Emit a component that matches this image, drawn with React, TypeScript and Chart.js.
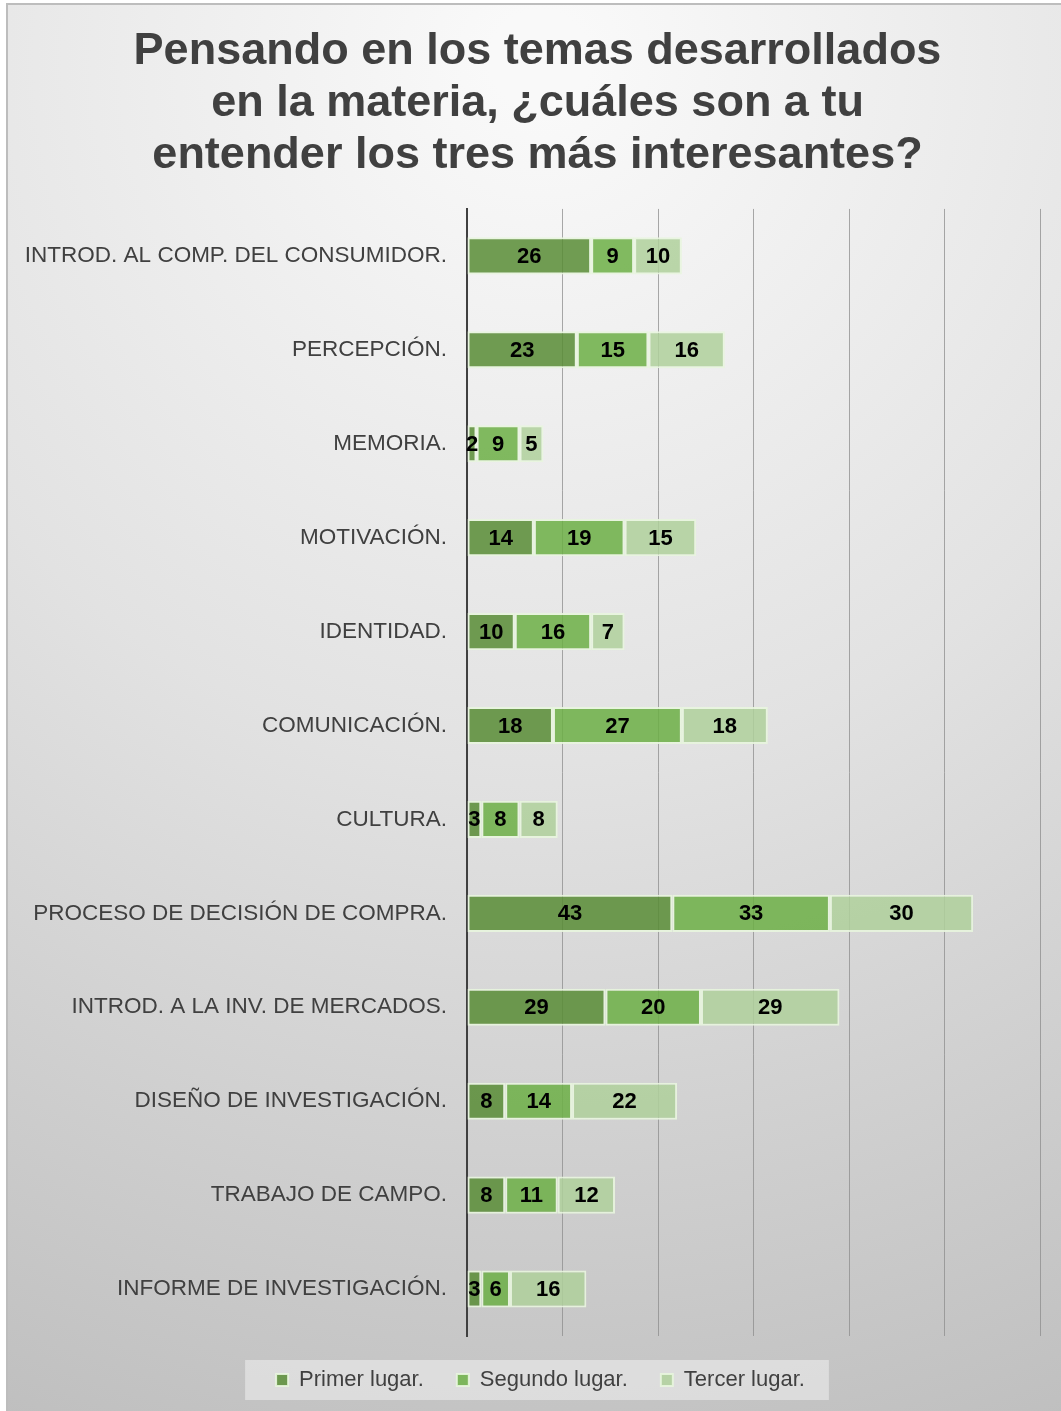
import React, { useEffect, useRef } from "react";
import { Chart, registerables } from "chart.js";

Chart.register(...registerables);

const categories = [
  "INTROD. AL COMP. DEL CONSUMIDOR.",
  "PERCEPCIÓN.",
  "MEMORIA.",
  "MOTIVACIÓN.",
  "IDENTIDAD.",
  "COMUNICACIÓN.",
  "CULTURA.",
  "PROCESO DE DECISIÓN DE COMPRA.",
  "INTROD. A LA INV. DE MERCADOS.",
  "DISEÑO DE INVESTIGACIÓN.",
  "TRABAJO DE CAMPO.",
  "INFORME DE INVESTIGACIÓN.",
];
const primerLugar = [26, 23, 2, 14, 10, 18, 3, 43, 29, 8, 8, 3];
const segundoLugar = [9, 15, 9, 19, 16, 27, 8, 33, 20, 14, 11, 6];
const tercerLugar = [10, 16, 5, 15, 7, 18, 8, 30, 29, 22, 12, 16];
const seriesNames = ["Primer lugar.", "Segundo lugar.", "Tercer lugar."];
const titleLines = [
  "Pensando en los temas desarrollados",
  "en la materia, ¿cuáles son a tu",
  "entender los tres más interesantes?",
];

const FONT = "'Liberation Sans', Arial, sans-serif";
const CENTER_SHIFT = 35;

const shiftPlugin = {
  id: "shiftBlocks",
  afterLayout(chart: any) {
    if (chart.titleBlock) chart.titleBlock.left += CENTER_SHIFT;
    if (chart.legend) chart.legend.left += CENTER_SHIFT + 6;
  },
};

const backgroundPlugin = {
  id: "bgFrame",
  beforeDraw(chart: any) {
    const { ctx, width, height } = chart;
    ctx.save();
    ctx.fillStyle = "#ffffff";
    ctx.fillRect(0, 0, width, height);
    const g = ctx.createRadialGradient(540, 60, 50, 540, 60, 1500);
    g.addColorStop(0, "#f9f9f9");
    g.addColorStop(0.45, "#e2e2e2");
    g.addColorStop(1, "#bdbdbd");
    ctx.fillStyle = g;
    ctx.fillRect(7, 4, width - 7, height - 4);
    ctx.strokeStyle = "#bdbdbd";
    ctx.lineWidth = 2;
    ctx.beginPath();
    ctx.moveTo(7, height);
    ctx.lineTo(7, 4);
    ctx.lineTo(width, 4);
    ctx.stroke();

    const lg = chart.legend;
    if (lg && lg.legendHitBoxes && lg.legendHitBoxes.length) {
      const hb = lg.legendHitBoxes;
      const left = Math.min(...hb.map((h: any) => h.left));
      const right = Math.max(...hb.map((h: any) => h.left + h.width));
      const cy = hb[0].top + hb[0].height / 2;
      ctx.fillStyle = "rgba(228,228,228,0.75)";
      ctx.fillRect(left - 31, cy - 20, right - left + 55, 40);
    }
    ctx.restore();
  },
};

const dataLabelPlugin = {
  id: "dataLabels",
  afterDatasetsDraw(chart: any) {
    const { ctx } = chart;
    ctx.save();
    ctx.font = `bold 22px ${FONT}`;
    ctx.fillStyle = "#000000";
    ctx.textAlign = "center";
    ctx.textBaseline = "middle";
    chart.data.datasets.forEach((ds: any, di: number) => {
      const meta = chart.getDatasetMeta(di);
      meta.data.forEach((bar: any, i: number) => {
        const v = ds.data[i];
        const p = bar.getCenterPoint();
        ctx.fillText(String(v), p.x, p.y + 1);
      });
    });
    ctx.restore();
  },
};

export default function App() {
  const ref = useRef<HTMLCanvasElement | null>(null);
  useEffect(() => {
    document.body.style.margin = "0";
    const canvas = ref.current!;
    const border = "rgba(232,245,222,0.9)";
    const chart = new Chart(canvas, {
      type: "bar",
      data: {
        labels: categories,
        datasets: [
          {
            label: seriesNames[0],
            data: primerLugar,
            backgroundColor: "rgba(88,140,53,0.85)",
            borderColor: border,
            borderWidth: 2,
            borderSkipped: false,
          },
          {
            label: seriesNames[1],
            data: segundoLugar,
            backgroundColor: "rgba(108,175,69,0.85)",
            borderColor: border,
            borderWidth: 2,
            borderSkipped: false,
          },
          {
            label: seriesNames[2],
            data: tercerLugar,
            backgroundColor: "rgba(175,208,155,0.85)",
            borderColor: border,
            borderWidth: 2,
            borderSkipped: false,
          },
        ],
      },
      options: {
        indexAxis: "y",
        responsive: false,
        animation: false,
        maintainAspectRatio: false,
        layout: { padding: { top: 0, left: 0, right: 21, bottom: 10 } },
        datasets: { bar: { categoryPercentage: 1, barPercentage: 0.395 } },
        scales: {
          x: {
            stacked: true,
            min: 0,
            max: 120,
            ticks: { display: false, stepSize: 20 },
            grid: {
              color: "rgba(140,140,140,0.75)",
              lineWidth: 1,
              drawTicks: false,
            },
            border: { display: false },
            afterFit(scale: any) {
              scale.height = 0;
            },
          },
          y: {
            stacked: true,
            grid: { display: false, drawTicks: false },
            border: { display: true, color: "#404040", width: 2 },
            ticks: {
              color: "#404040",
              font: { family: FONT, size: 22.5 },
              padding: 20,
            },
            afterFit(scale: any) {
              scale.width = 467;
            },
          },
        },
        plugins: {
          title: {
            display: true,
            text: titleLines,
            color: "#404040",
            font: { family: FONT, size: 45, weight: "bold", lineHeight: 1.155 },
            padding: { top: 26, bottom: 27 },
          },
          legend: {
            display: true,
            position: "bottom",
            labels: {
              color: "#404040",
              font: { family: FONT, size: 22 },
              boxWidth: 12,
              boxHeight: 12,
              padding: 33,
            },
          },
          tooltip: { enabled: false },
        },
      },
      plugins: [shiftPlugin, backgroundPlugin, dataLabelPlugin],
    } as any);
    return () => chart.destroy();
  }, []);
  return (
    <div style={{ position: "absolute", left: 0, top: 0, width: 1061, height: 1411 }}>
      <canvas ref={ref} width={1061} height={1411} style={{ width: 1061, height: 1411 }} />
    </div>
  );
}
